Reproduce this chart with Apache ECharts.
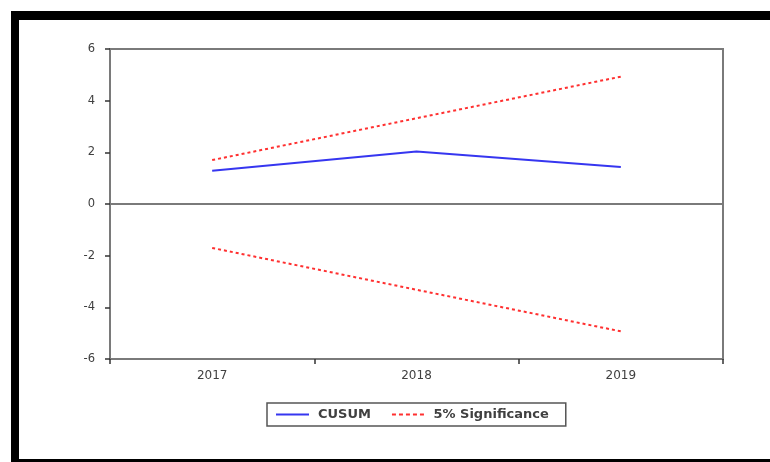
<!DOCTYPE html>
<html>
<head>
<meta charset="utf-8">
<script src="https://cdn.jsdelivr.net/npm/echarts@6/dist/echarts.min.js"></script>
<style>
  html, body { margin: 0; padding: 0; background: #fff; }
  #chart { width: 770px; height: 462px; }
</style>
</head>
<body>
<div id="chart"></div>
<script>
// Recursive residuals test: CUSUM statistic with 5% significance bounds
const years = ['2017', '2018', '2019'];
const cusum = [1.29, 2.03, 1.43];
const upperBound = [1.70, 3.32, 4.93];
const lowerBound = [-1.70, -3.32, -4.93];
const yTicks = { min: -6, max: 6, step: 2 };

const axisGray = '#7a7a7a';
const textGray = '#404040';
const blue = '#3636f0';
const red = '#ff3030';

// legend glyphs: a solid stroke and a short-dash stroke
const solidIcon = 'path://M0,0h33v2h-33z';
const dashIcon = 'path://M0,0h4v2h-4z M7,0h4v2h-4z M14,0h4v2h-4z M21,0h4v2h-4z M28,0h4v2h-4z';

const chart = echarts.init(document.getElementById('chart'), null, { renderer: 'canvas' });

chart.setOption({
  animation: false,
  backgroundColor: '#fff',
  grid: {
    left: 110, right: 47, top: 49, bottom: 103,
    show: true, borderColor: axisGray, borderWidth: 2, backgroundColor: 'transparent'
  },
  legend: {
    left: 267, top: 403,
    padding: [5, 17, 5, 9],
    itemWidth: 33, itemHeight: 2, itemGap: 21,
    borderColor: '#555', borderWidth: 1.5, borderRadius: 0,
    textStyle: {
      fontFamily: 'DejaVu Sans', fontSize: 13, fontWeight: 'bold', color: textGray,
      padding: [0, 0, 0, 4]
    },
    data: [
      { name: 'CUSUM', icon: solidIcon, itemStyle: { color: blue } },
      { name: '5% Significance', icon: dashIcon, itemStyle: { color: red } }
    ]
  },
  xAxis: {
    type: 'category',
    data: years,
    boundaryGap: true,
    axisLine: { onZero: false, lineStyle: { color: axisGray, width: 2 } },
    axisTick: { show: true, length: 5, inside: false, lineStyle: { color: '#333', width: 1.5 } },
    axisLabel: { margin: 11, fontFamily: 'DejaVu Sans', fontSize: 12, color: textGray },
    splitLine: { show: false }
  },
  yAxis: {
    type: 'value',
    min: yTicks.min, max: yTicks.max, interval: yTicks.step,
    axisLine: { show: true, lineStyle: { color: axisGray, width: 2 } },
    axisTick: { show: true, length: 5, lineStyle: { color: '#333', width: 1.5 } },
    axisLabel: { margin: 15, fontFamily: 'DejaVu Sans', fontSize: 11.5, color: textGray },
    splitLine: { show: false }
  },
  graphic: [
    { type: 'rect', shape: { x: 11, y: 11, width: 759, height: 9 }, style: { fill: '#000' }, silent: true },
    { type: 'rect', shape: { x: 11, y: 11, width: 8, height: 451 }, style: { fill: '#000' }, silent: true },
    { type: 'rect', shape: { x: 11, y: 459, width: 759, height: 3 }, style: { fill: '#000' }, silent: true }
  ],
  series: [
    {
      name: 'CUSUM',
      type: 'line',
      data: cusum,
      symbol: 'none',
      lineStyle: { color: blue, width: 2 },
      itemStyle: { color: blue },
      z: 3,
      markLine: {
        silent: true, symbol: 'none', label: { show: false },
        lineStyle: { color: axisGray, width: 2, type: 'solid' },
        data: [{ yAxis: 0 }]
      }
    },
    {
      name: '5% Significance',
      type: 'line',
      data: upperBound,
      symbol: 'none',
      lineStyle: { color: red, width: 2, type: [3, 3] },
      itemStyle: { color: red },
      z: 3
    },
    {
      name: '5% Significance',
      type: 'line',
      data: lowerBound,
      symbol: 'none',
      lineStyle: { color: red, width: 2, type: [3, 3] },
      itemStyle: { color: red },
      z: 3
    }
  ]
});
</script>
</body>
</html>
